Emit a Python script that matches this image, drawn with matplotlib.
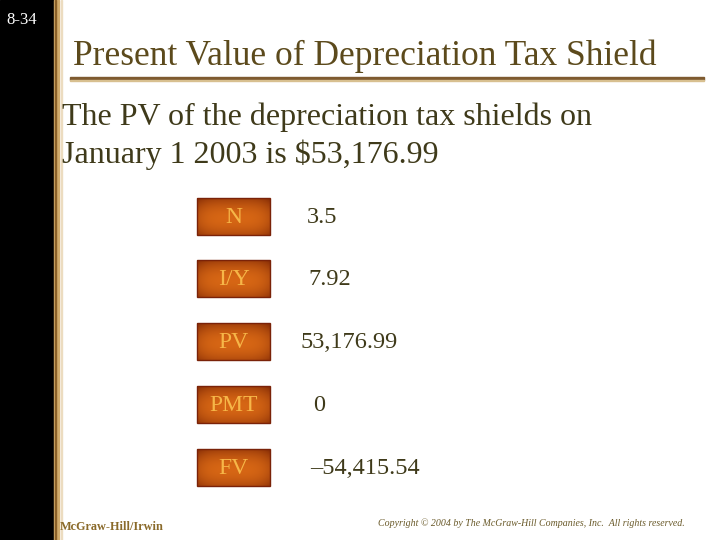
import matplotlib.pyplot as plt
import numpy as np
from matplotlib.patches import Rectangle

# Slide content
slide_no = '8-34'
title = 'Present Value of Depreciation Tax Shield'
subtitle = ['The PV of the depreciation tax shields on', 'January 1 2003 is $53,176.99']
keys = ['N', 'I/Y', 'PV', 'PMT', 'FV']
values = ['3.5', '7.92', '53,176.99', '0', '\u201354,415.54']

# layout (pixels)
box_top = [198, 260, 323, 386, 449]
value_x = [307, 308, 301, 313, 310]
box_x, box_w, box_h = 197, 73, 37

serif = ['Liberation Serif', 'DejaVu Serif']

fig = plt.figure(figsize=(7.2, 5.4), dpi=100)
ax = fig.add_axes([0, 0, 1, 1])
ax.set_xlim(0, 720)
ax.set_ylim(540, 0)
ax.axis('off')

# left black band and gold rules
ax.add_patch(Rectangle((0, 0), 54, 540, color='black'))
ax.add_patch(Rectangle((54, 0), 4.5, 540, color='#d2ac6c'))
ax.add_patch(Rectangle((55.3, 0), 0.9, 540, color='#8a6028'))
ax.add_patch(Rectangle((60.5, 0), 1, 540, color='#ecdcc0'))

ax.text(6, 20, slide_no, color='white', fontsize=12, family=serif, va='center')

ax.text(73, 56, title, color='#5c4a1c', fontsize=25.5, family=serif, va='center')
ax.add_patch(Rectangle((70, 76.5), 634, 3.2, color='#7e5a30'))
ax.add_patch(Rectangle((70, 79.7), 634, 1.3, color='#d8c090'))

ax.text(62, 117, subtitle[0], color='#3f3a1a', fontsize=23, family=serif, va='center')
ax.text(62, 155, subtitle[1], color='#3f3a1a', fontsize=23, family=serif, va='center')

# gradient for the key boxes
yy = np.linspace(-1, 1, 40)[:, None] - 0.1
xx = np.linspace(-1, 1, 80)[None, :]
shade = 1 - 0.45 * yy**2 - 0.3 * xx**4
dark = np.array([0.52, 0.17, 0.02])
light = np.array([0.84, 0.40, 0.08])
grad = dark + (light - dark) * ((shade - shade.min()) / (shade.max() - shade.min()))[..., None]

for k, v, top, vx in zip(keys, values, box_top, value_x):
    ax.imshow(grad, extent=(box_x, box_x + box_w, top + box_h, top), aspect='auto',
              interpolation='bilinear', zorder=2)
    ax.add_patch(Rectangle((box_x, top), box_w, box_h, fill=False, ec='#7a2208', lw=1, zorder=3))
    ax.text(box_x + box_w / 2, top + box_h / 2 + 1, k, color='#f6b648', fontsize=17,
            family=serif, ha='center', va='center', zorder=4)
    ax.text(vx, top + box_h / 2 + 1, v, color='#3f3a1a', fontsize=17.5, family=serif,
            va='center')

ax.text(60, 527, 'McGraw-Hill/Irwin', color='#8a6a2a', fontsize=8.8, family=serif,
        weight='bold', va='center')
ax.text(685, 523, 'Copyright \u00a9 2004 by The McGraw-Hill Companies, Inc.  All rights reserved.',
        color='#6a5a2a', fontsize=7.1, family=serif, style='italic', ha='right', va='center')

fig.savefig('out.png', dpi=100)
